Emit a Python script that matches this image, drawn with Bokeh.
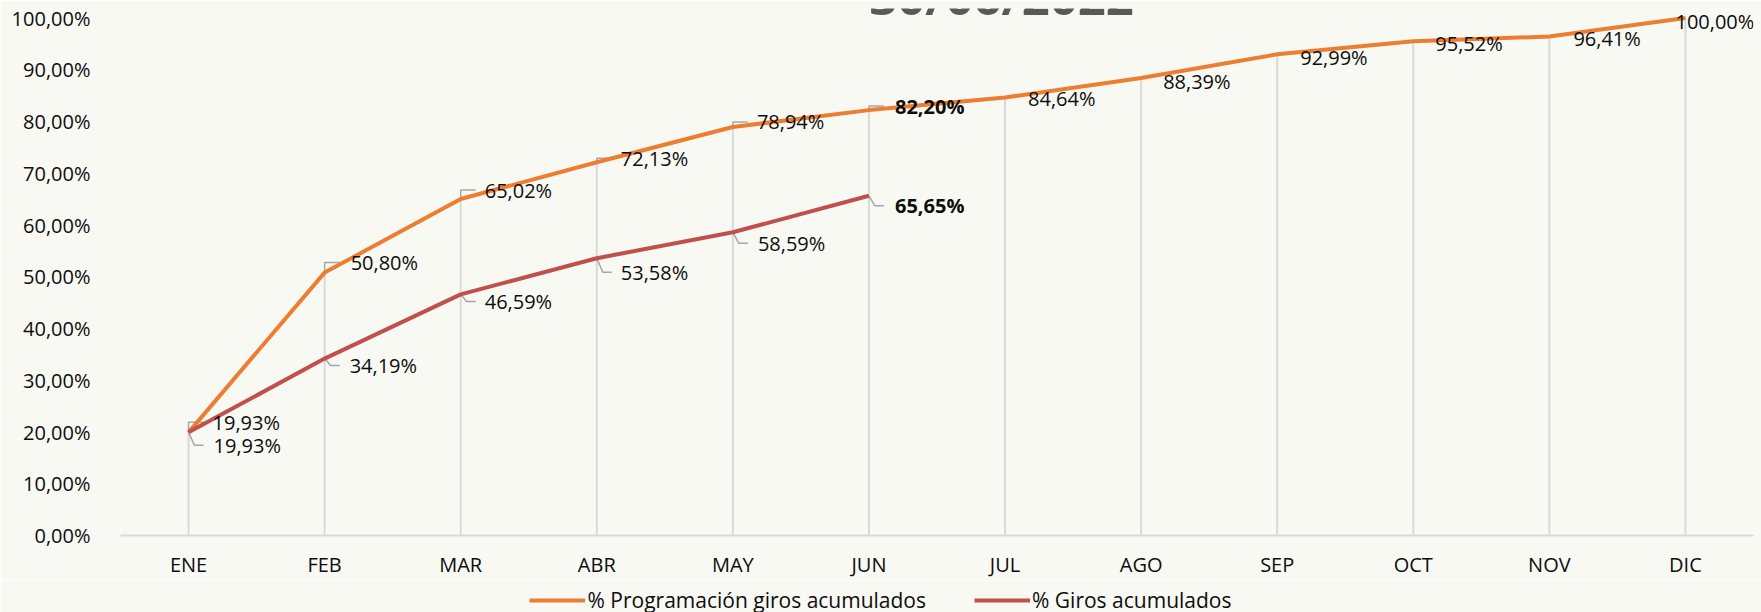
from bokeh.plotting import figure
from bokeh.layouts import column
from bokeh.models import (ColumnDataSource, Range1d, FixedTicker, Label, LabelSet,
                          Legend, LegendItem)
from bokeh.core.properties import value
from bokeh.embed import file_html
from bokeh.resources import INLINE

# ---------------- data ----------------
months = ["ENE", "FEB", "MAR", "ABR", "MAY", "JUN", "JUL", "AGO", "SEP", "OCT", "NOV", "DIC"]
prog = [19.93, 50.80, 65.02, 72.13, 78.94, 82.20, 84.64, 88.39, 92.99, 95.52, 96.41, 100.00]
giros = [19.93, 34.19, 46.59, 53.58, 58.59, 65.65]
y_ticks = [0, 10, 20, 30, 40, 50, 60, 70, 80, 90, 100]
title_text = "30/06/2022"
name_prog = "% Programación giros acumulados"
name_giros = "% Giros acumulados"
bold_month = "JUN"

# ---------------- layout ----------------
W, H = 1761, 612
LEG_H = 35
MAIN_H = H - LEG_H
LEFT, RIGHT, TOP, BOTTOM = 120, 8, 8, 42
frame_w = W - LEFT - RIGHT
frame_h = MAIN_H - TOP - BOTTOM
px_per_pct = (535 - 17.5) / 100.0
y_end = 100 + (17.5 - TOP) / px_per_pct
px_per_cat = frame_w / len(months)

FONT = "Open Sans"
FS = "20px"
ORANGE = "#ED7D31"
RED = "#C0504D"
BG = "#F9F9F4"
LIGHT = "#D9D9D9"
LEADER = "#A6A6A6"
INK = "#0D0D0D"

xs = list(range(len(months)))

p = figure(frame_width=frame_w, frame_height=frame_h,
           output_backend="svg", toolbar_location=None,
           x_range=Range1d(-0.5, len(months) - 0.5), y_range=Range1d(0, y_end),
           min_border_left=LEFT, min_border_right=RIGHT,
           min_border_top=TOP, min_border_bottom=BOTTOM)
p.background_fill_color = BG
p.border_fill_color = BG
p.outline_line_color = None
p.grid.visible = False

# axes
p.xaxis.ticker = FixedTicker(ticks=xs)
p.xaxis.major_label_overrides = {i: m for i, m in enumerate(months)}
p.yaxis.ticker = FixedTicker(ticks=y_ticks)
p.yaxis.major_label_overrides = {t: f"{t:.2f}".replace(".", ",") + "%" for t in y_ticks}
for ax in (p.xaxis[0], p.yaxis[0]):
    ax.major_tick_line_color = None
    ax.minor_tick_line_color = None
    ax.major_label_text_font = FONT
    ax.major_label_text_font_size = FS
    ax.major_label_text_color = INK
p.yaxis.axis_line_color = None
p.yaxis.major_label_standoff = 24
p.xaxis.axis_line_color = LIGHT
p.xaxis.axis_line_width = 2
p.xaxis.major_label_standoff = 9

# drop lines
top_vals = [max(prog[i], giros[i]) if i < len(giros) else prog[i] for i in xs]
p.segment(x0=xs, y0=[0] * len(xs), x1=xs, y1=top_vals, line_color=LIGHT, line_width=2)

# helpers to convert small pixel offsets to data units
def dx(px):
    return px / px_per_cat

def dy(px):
    return px / px_per_pct

# label offsets (pixels: right, up)
prog_off = [(24, 10), (26, 10), (24, 9), (24, 4), (24, 5), (26, 4),
            (23, -1), (22, -3), (23, -3), (22, -2.5), (24, -2), (-10, -3)]
giros_off = [(25, -13), (25, -7), (24, -7), (24, -14), (25, -11), (26, -10)]

# leader lines
lx, ly = [], []
for i in range(6):
    ox, oy = prog_off[i]
    lx.append([xs[i], xs[i], xs[i] + dx(15)])
    ly.append([prog[i], prog[i] + dy(oy), prog[i] + dy(oy)])
for i in range(len(giros)):
    ox, oy = giros_off[i]
    lx.append([xs[i], xs[i] + dx(6), xs[i] + dx(15)])
    ly.append([giros[i], giros[i] + dy(oy), giros[i] + dy(oy)])
p.multi_line(xs=lx, ys=ly, line_color=LEADER, line_width=1.5)

# series lines
p.line(xs, prog, line_color=ORANGE, line_width=4, line_join="round")
p.line(xs[:len(giros)], giros, line_color=RED, line_width=4, line_join="round")

# data labels
def fmt(v):
    return f"{v:.2f}".replace(".", ",") + "%"

def add_labels(vals, offs):
    n = len(vals)
    normal = dict(x=[], y=[], t=[])
    bold = dict(x=[], y=[], t=[])
    for i in range(n):
        tgt = bold if months[i] == bold_month else normal
        tgt["x"].append(xs[i] + dx(offs[i][0]))
        tgt["y"].append(vals[i] + dy(offs[i][1]))
        tgt["t"].append(fmt(vals[i]))
    for d, style in ((normal, "normal"), (bold, "bold")):
        ls = LabelSet(x="x", y="y", text="t", source=ColumnDataSource(d),
                      text_font=value(FONT), text_font_size=value(FS),
                      text_font_style=value(style),
                      text_color=value(INK), text_align="left", text_baseline="middle")
        p.add_layout(ls)

add_labels(prog, prog_off)
add_labels(giros, giros_off)

# title (partially cut by the top edge, as in the reference)
title = Label(x=1001 - LEFT, y=frame_h + 13, x_units="screen", y_units="screen",
              text=title_text, text_font=FONT, text_font_size="49px",
              text_font_style="bold", text_color="#595959",
              text_align="center", text_baseline="alphabetic")
p.add_layout(title)

# ---------------- legend strip ----------------
LEG_LEFT = 44
LEG_TOP = 5
q = figure(frame_width=W - LEG_LEFT, frame_height=LEG_H - LEG_TOP,
           output_backend="svg", toolbar_location=None,
           x_axis_location=None, y_axis_location=None,
           x_range=Range1d(1000, 1001), y_range=Range1d(1000, 1001),
           min_border_left=LEG_LEFT, min_border_right=0,
           min_border_top=LEG_TOP, min_border_bottom=0)
q.background_fill_color = BG
q.border_fill_color = BG
q.outline_line_color = None
q.grid.visible = False
# same series, kept out of this strip's view; they only provide the legend swatches
lp = q.line(xs, prog, line_color=ORANGE, line_width=4)
lg = q.line(xs[:len(giros)], giros, line_color=RED, line_width=4)
legend = Legend(items=[LegendItem(label=name_prog, renderers=[lp]),
                       LegendItem(label=name_giros, renderers=[lg])],
                orientation="horizontal", location="center",
                label_text_font=FONT, label_text_font_size="21px",
                label_text_color=INK,
                glyph_width=56, glyph_height=20, label_standoff=2, spacing=48,
                padding=0, margin=0, border_line_color=None,
                background_fill_alpha=0)
q.add_layout(legend)

layout = column(p, q, spacing=0)
open("out.html", "w").write(file_html(layout, INLINE))
